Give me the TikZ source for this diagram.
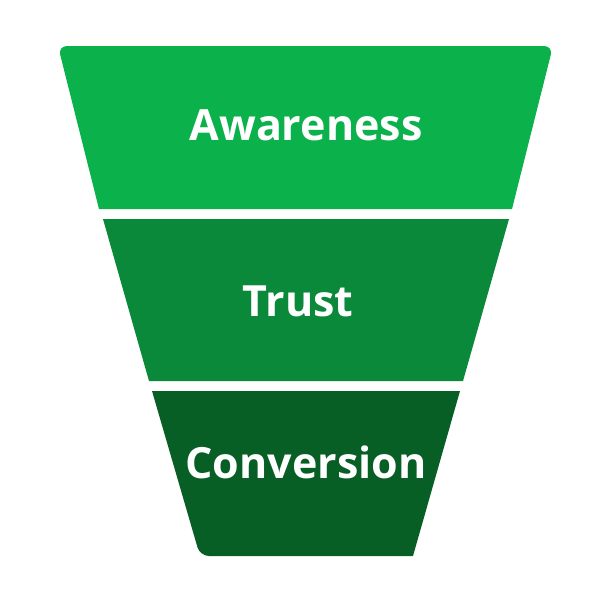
\documentclass[tikz,border=0pt]{standalone}
\usepackage{fontspec}
\setmainfont{Open Sans}
\definecolor{gtop}{RGB}{11,177,74}
\definecolor{gmid}{RGB}{9,137,57}
\definecolor{gbot}{RGB}{8,95,37}
\tikzset{
  band/.style={draw=none},
  lbl/.style={text=white, font=\fontsize{43}{50}\selectfont\bfseries, inner sep=0pt}
}
\begin{document}
\begin{tikzpicture}[x=1pt,y=-1pt]
\useasboundingbox (0,0) rectangle (600,600);
\fill[gtop] (99,209) [rounded corners=9pt] -- (58,46) -- (553,46) [sharp corners] -- (512,209) -- cycle;
\fill[gmid] (103,219) -- (509,219) -- (463,381) -- (149,381) -- cycle;
\fill[gbot] (152,391) -- (460,391) -- (413,556) [rounded corners=9pt] -- (200,556) [sharp corners] -- cycle;
\node[lbl] (aw) at (306,125) {Awareness};
\node[lbl] (tr) at (298,301) {Trust};
\node[lbl] (cv) at (306,462) {Conversion};
\end{tikzpicture}
\end{document}
